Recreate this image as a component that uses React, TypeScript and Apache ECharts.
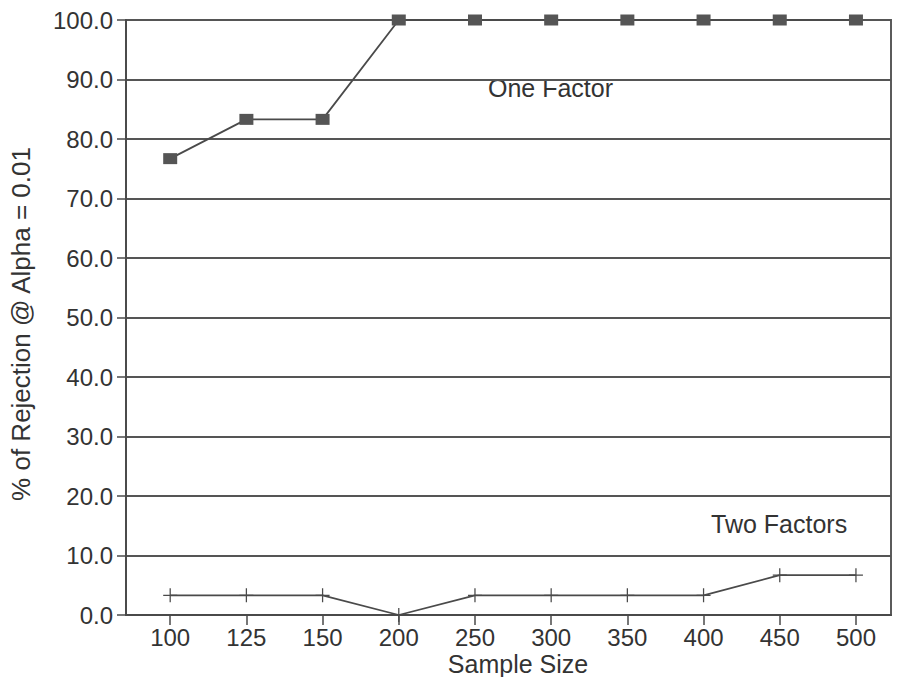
import React, { useEffect, useRef } from "react";
import * as echarts from "echarts";

const categories = ["100", "125", "150", "200", "250", "300", "350", "400", "450", "500"];
const oneFactor = [76.7, 83.3, 83.3, 100, 100, 100, 100, 100, 100, 100];
const twoFactors = [3.3, 3.3, 3.3, 0, 3.3, 3.3, 3.3, 3.3, 6.7, 6.7];
const yTicks = [0, 10, 20, 30, 40, 50, 60, 70, 80, 90, 100];

const FONT = "'Liberation Sans', Arial, Helvetica, sans-serif";
const TEXT = "#333333";
const LINE = "#4a4a4a";

export default function App() {
  const ref = useRef<HTMLDivElement>(null);
  useEffect(() => {
    if (!ref.current) return;
    const chart = echarts.init(ref.current, null, { renderer: "svg" });
    const idx = categories.map((_, i) => i);
    chart.setOption({
      animation: false,
      backgroundColor: "#ffffff",
      grid: {
        left: 126,
        right: 13,
        top: 20,
        bottom: 70,
        show: true,
        borderColor: LINE,
        borderWidth: 1.8,
        backgroundColor: "transparent",
      },
      xAxis: {
        type: "value",
        min: -0.58,
        max: 9.46,
        axisLine: { show: true, onZero: false, lineStyle: { color: LINE, width: 1.8 } },
        axisTick: {
          show: true,
          customValues: idx,
          length: 10,
          inside: false,
          lineStyle: { color: LINE, width: 1.5 },
        },
        axisLabel: {
          customValues: idx,
          formatter: (v: number) => categories[Math.round(v)] ?? "",
          fontFamily: FONT,
          fontSize: 24,
          color: TEXT,
          margin: 10,
          lineHeight: 24,
        },
        splitLine: { show: false },
      },
      yAxis: {
        type: "value",
        min: 0,
        max: 100,
        interval: 10,
        axisLine: { show: true, onZero: false, lineStyle: { color: LINE, width: 1.8 } },
        axisTick: { show: true, length: 9, lineStyle: { color: LINE, width: 1.5 } },
        axisLabel: {
          formatter: (v: number) => (yTicks.includes(v) ? v.toFixed(1) : ""),
          fontFamily: FONT,
          fontSize: 24,
          color: TEXT,
          margin: 13,
        },
        splitLine: { show: true, lineStyle: { color: "#555555", width: 1.8 } },
      },
      graphic: [
        {
          type: "text",
          x: 488,
          y: 88,
          style: { text: "One Factor", font: `25px ${FONT}`, fill: TEXT, verticalAlign: "middle" },
        },
        {
          type: "text",
          x: 711,
          y: 524,
          style: { text: "Two Factors", font: `25px ${FONT}`, fill: TEXT, verticalAlign: "middle" },
        },
        {
          type: "text",
          x: 518,
          y: 664,
          style: {
            text: "Sample Size",
            font: `25px ${FONT}`,
            fill: TEXT,
            align: "center",
            verticalAlign: "middle",
          },
        },
        {
          type: "text",
          x: 21,
          y: 324,
          rotation: Math.PI / 2,
          style: {
            text: "% of Rejection @ Alpha = 0.01",
            font: `26px ${FONT}`,
            fill: TEXT,
            align: "center",
            verticalAlign: "middle",
          },
        },
      ],
      series: [
        {
          name: "One Factor",
          type: "line",
          data: oneFactor.map((v, i) => [i, v]),
          symbol: "rect",
          symbolSize: [14, 11],
          itemStyle: { color: "#555555" },
          lineStyle: { color: LINE, width: 1.8 },
          clip: false,
          z: 5,
        },
        {
          name: "Two Factors",
          type: "line",
          data: twoFactors.map((v, i) => [i, v]),
          symbol: "path://M-0.09,-1H0.09V1H-0.09Z M-1,-0.1H1V0.1H-1Z",
          symbolSize: [14, 14],
          itemStyle: { color: LINE },
          lineStyle: { color: LINE, width: 1.8 },
          clip: false,
          z: 5,
        },
      ],
    });
    return () => chart.dispose();
  }, []);
  return <div ref={ref} style={{ width: 904, height: 685, margin: -8 }} />;
}
